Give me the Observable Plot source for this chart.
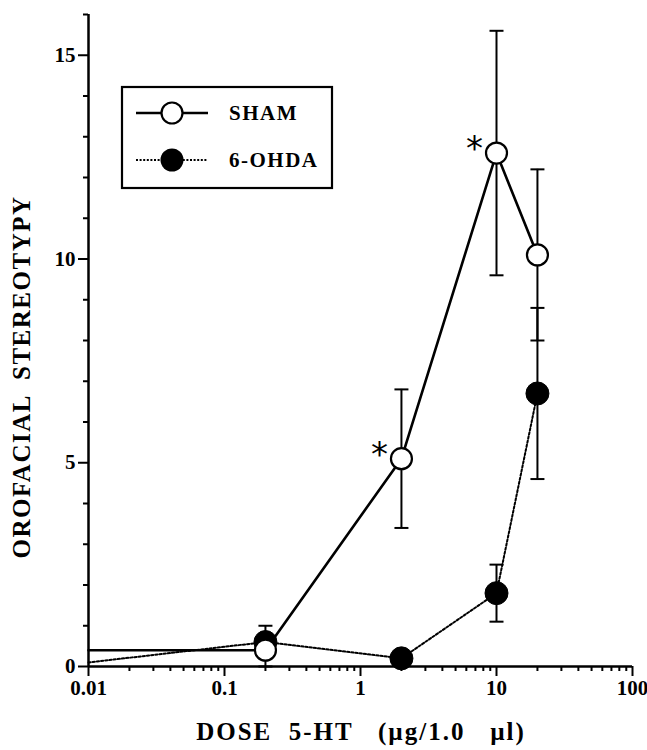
<!DOCTYPE html>
<html>
<head>
<meta charset="utf-8">
<script src="https://cdn.jsdelivr.net/npm/d3@7"></script>
<script src="https://cdn.jsdelivr.net/npm/@observablehq/plot@0.6"></script>
<style>
  html, body { margin: 0; padding: 0; background: #fff; }
  #wrap { position: relative; width: 647px; height: 750px; overflow: hidden; }
  .serif { font-family: "Liberation Serif", "Times New Roman", serif; font-weight: bold; color: #000; }
  #xtitle { position: absolute; left: 361px; top: 718px; font-size: 25px; letter-spacing: 2px; white-space: pre; transform: translateX(-50%); }
  #ytitle { position: absolute; left: 22px; top: 377px; font-size: 25px; letter-spacing: 1.5px; white-space: pre; transform: translate(-50%, -50%) rotate(-90deg); transform-origin: center; }
  #legend { position: absolute; left: 0; top: 0; }
  #wrap svg g[aria-label$="tick label"] text { font-size: 21px; font-weight: bold; }
</style>
</head>
<body>
<div id="wrap"></div>
<script>
// ---- data ----
const doses        = [0.01, 0.2, 2, 10, 20];          // µg/1.0 µl
const shamMean     = [0.4, 0.4, 5.1, 12.6, 10.1];
const shamErr      = [0, 0.4, 1.7, 3.0, 2.1];
const ohdaMean     = [0.1, 0.6, 0.2, 1.8, 6.7];
const ohdaErr      = [0, 0.4, 0, 0.7, 2.1];
const hasMarker    = [false, true, true, true, true];
const shamSignif   = [false, false, true, true, false];

const xMajorTicks = [0.01, 0.1, 1, 10, 100];
const xTickLabels = ["0.01", "0.1", "1", "10", "100"];
const yMajorTicks = [0, 5, 10, 15];
const yTickLabels = ["0", "5", "10", "15"];
const yMinorTicks = [1, 2, 3, 4, 6, 7, 8, 9, 11, 12, 13, 14, 16];
const seriesNames = ["SHAM", "6-OHDA"];
const xTitle = "DOSE  5-HT   (\u00B5g/1.0   \u00B5l)";
const yTitle = "OROFACIAL  STEREOTYPY";

// ---- tables ----
const sham = doses.map((d, i) => ({dose: d, mean: shamMean[i], err: shamErr[i], marker: hasMarker[i], sig: shamSignif[i]}));
const ohda = doses.map((d, i) => ({dose: d, mean: ohdaMean[i], err: ohdaErr[i], marker: hasMarker[i]}));
const shamPts = sham.filter(d => d.marker);
const ohdaPts = ohda.filter(d => d.marker);
const shamBars = shamPts.filter(d => d.err > 0);
const ohdaBars = ohdaPts.filter(d => d.err > 0);
const xLabelMap = new Map(xMajorTicks.map((t, i) => [t, xTickLabels[i]]));
const yLabelMap = new Map(yMajorTicks.map((t, i) => [t, yTickLabels[i]]));

const xMinorTicks = [];
for (let e = -2; e < 2; e++) for (let k = 2; k <= 9; k++) xMinorTicks.push(+(k * Math.pow(10, e)).toPrecision(3));

// horizontal cap symbol for error bars
const capSymbol = {
  draw(ctx, size) {
    const w = Math.sqrt(size / Math.PI);
    ctx.moveTo(-w, 0);
    ctx.lineTo(w, 0);
  }
};

const font = "'Liberation Serif', 'Times New Roman', serif";

const chart = Plot.plot({
  width: 647,
  height: 750,
  marginLeft: 88,
  marginRight: 15,
  marginTop: 14,
  marginBottom: 84,
  style: {fontFamily: font, fontSize: "21px", fontWeight: "bold", color: "#000", background: "#fff", overflow: "visible"},
  x: {type: "log", domain: [0.01, 100]},
  y: {domain: [0, 16]},
  marks: [
    // axes
    Plot.axisX(xMinorTicks, {tickSize: 5, tickFormat: () => "", strokeWidth: 2, label: null}),
    Plot.axisX(xMajorTicks, {tickSize: 10, tickPadding: 4, tickFormat: d => xLabelMap.get(d), strokeWidth: 2, label: null}),
    Plot.axisY(yMinorTicks, {tickSize: 5, tickFormat: () => "", strokeWidth: 2, label: null}),
    Plot.axisY(yMajorTicks, {tickSize: 10, tickPadding: 3, tickFormat: d => yLabelMap.get(d), strokeWidth: 2, label: null}),
    Plot.ruleX([0.01], {strokeWidth: 2.5}),
    Plot.ruleY([0], {strokeWidth: 2.5}),
    // lines
    Plot.line(ohda, {x: "dose", y: "mean", stroke: "#000", strokeWidth: 2, strokeDasharray: "2.2,2"}),
    Plot.line(sham, {x: "dose", y: "mean", stroke: "#000", strokeWidth: 2.6}),
    // error bars
    Plot.ruleX(ohdaBars, {x: "dose", y1: d => d.mean - d.err, y2: d => d.mean + d.err, strokeWidth: 2}),
    Plot.dot(ohdaBars, {x: "dose", y: d => d.mean + d.err, symbol: capSymbol, r: 7, stroke: "#000", strokeWidth: 2, fill: "none"}),
    Plot.dot(ohdaBars, {x: "dose", y: d => d.mean - d.err, symbol: capSymbol, r: 7, stroke: "#000", strokeWidth: 2, fill: "none"}),
    Plot.ruleX(shamBars, {x: "dose", y1: d => d.mean - d.err, y2: d => d.mean + d.err, strokeWidth: 2}),
    Plot.dot(shamBars, {x: "dose", y: d => d.mean + d.err, symbol: capSymbol, r: 7, stroke: "#000", strokeWidth: 2, fill: "none"}),
    Plot.dot(shamBars, {x: "dose", y: d => d.mean - d.err, symbol: capSymbol, r: 7, stroke: "#000", strokeWidth: 2, fill: "none"}),
    // markers
    Plot.dot(ohdaPts, {x: "dose", y: "mean", r: 11.5, fill: "#000", stroke: "#000", strokeWidth: 1}),
    Plot.dot(shamPts, {x: "dose", y: "mean", r: 10.5, fill: "#fff", stroke: "#000", strokeWidth: 2.2}),
    // significance asterisks
    Plot.text(sham.filter(d => d.sig), {x: "dose", y: "mean", text: () => "*", dx: -22, dy: -4, fontSize: 34, fontWeight: "normal", fontFamily: "'DejaVu Sans', sans-serif", textAnchor: "middle"})
  ]
});

const wrap = document.getElementById("wrap");
wrap.appendChild(chart);

// legend (overlay box inside the plot area)
const ns = "http://www.w3.org/2000/svg";
const leg = document.createElementNS(ns, "svg");
leg.setAttribute("id", "legend");
leg.setAttribute("width", 647);
leg.setAttribute("height", 750);
leg.style.pointerEvents = "none";
const lx = 122, ly = 87, lw = 210, lh = 101;
leg.innerHTML = `
  <rect x="${lx}" y="${ly}" width="${lw}" height="${lh}" fill="#fff" stroke="#000" stroke-width="2.2"/>
  <line x1="136" x2="208" y1="113" y2="113" stroke="#000" stroke-width="2.4"/>
  <circle cx="172" cy="113" r="10.5" fill="#fff" stroke="#000" stroke-width="2.2"/>
  <line x1="136" x2="208" y1="160" y2="160" stroke="#000" stroke-width="2" stroke-dasharray="2,1.6"/>
  <circle cx="172" cy="160" r="11.5" fill="#000"/>
  <text x="229" y="120" font-family="${font}" font-weight="bold" font-size="21" letter-spacing="1.5">${seriesNames[0]}</text>
  <text x="229" y="167" font-family="${font}" font-weight="bold" font-size="21" letter-spacing="1.5">${seriesNames[1]}</text>
`;
wrap.appendChild(leg);

const xt = document.createElement("div");
xt.id = "xtitle"; xt.className = "serif"; xt.textContent = xTitle;
wrap.appendChild(xt);
const yt = document.createElement("div");
yt.id = "ytitle"; yt.className = "serif"; yt.textContent = yTitle;
wrap.appendChild(yt);
</script>
</body>
</html>
